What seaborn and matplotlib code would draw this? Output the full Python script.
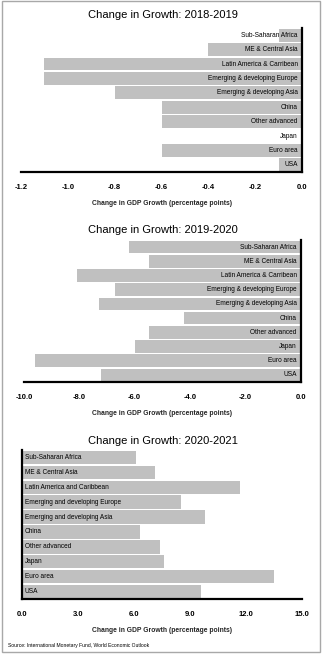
import matplotlib
matplotlib.use("Agg")
import matplotlib.pyplot as plt
import matplotlib.patches as mpatches
import seaborn as sns
import pandas as pd

sns.set_theme(style="white")
plt.rcParams['font.family'] = ['Liberation Sans', 'DejaVu Sans']
plt.rcParams['axes.unicode_minus'] = False

# ---- data ----
cats_a = ["Sub-Saharan Africa", "ME & Central Asia", "Latin America & Carribean",
          "Emerging & developing Europe", "Emerging & developing Asia", "China",
          "Other advanced", "Japan", "Euro area", "USA"]
cats_c = ["Sub-Saharan Africa", "ME & Central Asia", "Latin America and Caribbean",
          "Emerging and developing Europe", "Emerging and developing Asia", "China",
          "Other advanced", "Japan", "Euro area", "USA"]
vals_2019 = [-0.1, -0.4, -1.1, -1.1, -0.8, -0.6, -0.6, 0.0, -0.6, -0.1]
vals_2020 = [-6.2, -5.5, -8.1, -6.7, -7.3, -4.2, -5.5, -6.0, -9.6, -7.2]
vals_2021 = [6.1, 7.1, 11.7, 8.5, 9.8, 6.3, 7.4, 7.6, 13.5, 9.6]
titles = ["Change in Growth: 2018-2019", "Change in Growth: 2019-2020",
          "Change in Growth: 2020-2021"]
ticks_1 = [-1.2, -1.0, -0.8, -0.6, -0.4, -0.2, 0.0]
ticks_2 = [-10.0, -8.0, -6.0, -4.0, -2.0, 0.0]
ticks_3 = [0.0, 3.0, 6.0, 9.0, 12.0, 15.0]
xlabel = "Change in GDP Growth (percentage points)"
source = "Source: International Monetary Fund, World Economic Outlook"

W, H = 325, 655
fig = plt.figure(figsize=(W / 100, H / 100), dpi=100)
fig.patch.set_facecolor("white")

def box(l, r, t, b):
    return [l / W, 1 - b / H, (r - l) / W, (b - t) / H]

panels = [
    dict(cats=cats_a, vals=vals_2019, ticks=ticks_1, pos=box(21, 302, 28, 172),
         title_y=15, side="right"),
    dict(cats=cats_a, vals=vals_2020, ticks=ticks_2, pos=box(24, 300.7, 240, 382),
         title_y=230, side="right"),
    dict(cats=cats_c, vals=vals_2021, ticks=ticks_3, pos=box(22.3, 302, 450, 599),
         title_y=441, side="left"),
]

for p, title in zip(panels, titles):
    ax = fig.add_axes(p["pos"])
    df = pd.DataFrame({"cat": p["cats"], "val": p["vals"]})
    sns.barplot(data=df, x="val", y="cat", orient="h", color="#c0c0c0",
                saturation=1, width=0.9, ax=ax, edgecolor="none")
    ax.set_xlim(p["ticks"][0], p["ticks"][-1])
    ax.set_ylim(9.5, -0.5)
    ax.set_xticks(p["ticks"])
    ax.set_xticklabels([f"{t:.1f}" for t in p["ticks"]], fontsize=5.5,
                       fontweight="bold")
    ax.set_yticks([])
    ax.set_ylabel("")
    ax.set_xlabel(xlabel, fontsize=4.9, fontweight="bold", labelpad=6.5)
    ax.tick_params(axis="x", direction="in", length=2.5, width=1.5, pad=8.5,
                   colors="black")
    for s in ["top", "left", "right", "bottom"]:
        ax.spines[s].set_visible(False)
    ax.spines["bottom"].set_visible(True)
    ax.spines["bottom"].set_linewidth(1.6)
    ax.spines["bottom"].set_color("black")
    ax.spines[p["side"]].set_visible(True)
    ax.spines[p["side"]].set_linewidth(1.6)
    ax.spines[p["side"]].set_color("black")
    ax.set_facecolor("white")
    trans = ax.get_yaxis_transform()
    for i, c in enumerate(p["cats"]):
        if p["side"] == "right":
            ax.text(0.985, i, c, transform=trans, ha="right", va="center",
                    fontsize=4.7, color="black")
        else:
            ax.text(0.008, i, c, transform=trans, ha="left", va="center",
                    fontsize=4.7, color="black")
    fig.text(163 / W, 1 - p["title_y"] / H, title, ha="center", va="center",
             fontsize=8, color="black")

fig.text(8 / W, 1 - 645 / H, source, ha="left", va="center", fontsize=3.6,
         color="black")

fig.patches.append(mpatches.Rectangle((1.5 / W, 3.5 / H), 318 / W, 651 / H,
                                      transform=fig.transFigure, fill=False,
                                      edgecolor="#a8a8a8", linewidth=1))

fig.savefig("out.png", dpi=100)
